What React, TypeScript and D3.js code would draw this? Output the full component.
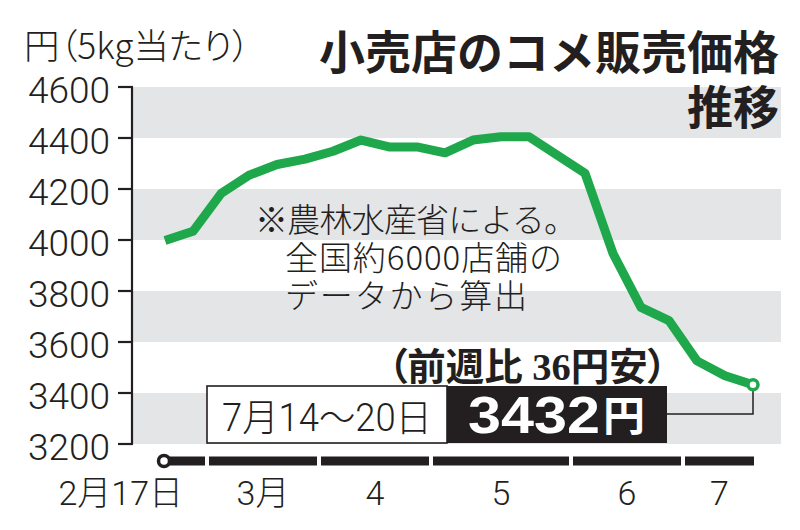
import React from "react";
import * as d3 from "d3";

const weekLabels = ["2/17","2/24","3/3","3/10","3/17","3/24","3/31","4/7","4/14","4/21","4/28","5/5","5/12","5/19","5/26","6/2","6/9","6/16","6/23","6/30","7/7","7/14"];
const prices = [3998, 4034, 4182, 4254, 4296, 4317, 4348, 4392, 4365, 4365, 4342, 4392, 4405, 4405, 4333, 4262, 3947, 3736, 3684, 3526, 3468, 3432];
const yTicks = [3200, 3400, 3600, 3800, 4000, 4200, 4400, 4600];
const monthLabels = ["3月", "4", "5", "6", "7"];
const monthStartIndex = [2, 6, 10, 15, 19];
const firstLabel = "2月17日";
const titleLine1 = "小売店のコメ販売価格";
const titleLine2 = "推移";
const unitLabel = "円（5kg当たり）";
const noteLines = ["※農林水産省による。", "全国約6000店舗の", "データから算出"];
const latestPeriod = "7月14～20日";
const latestValue = "3432";
const latestUnit = "円";
const changeLabel = "（前週比 36円安）";

const INK = "#231f20";
const GREEN = "#1fa84b";
const BAND = "#e4e5e7";
const SANS = "Roboto, 'Noto Sans CJK JP', sans-serif";
const CJK = "'Noto Sans CJK JP', sans-serif";

export default function App() {
  const W = 800, H = 530;
  const n = prices.length;
  const x = d3.scaleLinear().domain([0, n - 1]).range([165, 753]);
  const y = d3.scaleLinear().domain([3200, 4600]).range([444, 87]);
  const plotL = 133, plotR = 781;
  const axisX = 132;

  const line = d3.line<number>().x((_, i) => x(i)).y((d) => y(d)).curve(d3.curveLinear);

  const groupStarts = [0, ...monthStartIndex];
  const segs = groupStarts.map((s, g) => {
    const start = g === 0 ? x(0) : (x(s - 1) + x(s)) / 2 + 2;
    const end = g === groupStarts.length - 1 ? x(n - 1) + 1 : (x(groupStarts[g + 1] - 1) + x(groupStarts[g + 1])) / 2 - 2;
    return { start, end };
  });
  const barY = 461;

  const lastX = x(n - 1), lastY = y(prices[n - 1]);

  return (
    <svg width={W} height={H} style={{ position: "absolute", left: 0, top: 0, background: "#fff" }}>
      {/* bands */}
      {yTicks.slice(0, -1).map((t, k) =>
        k % 2 === 0 ? (
          <rect key={"b" + k} x={plotL} y={y(yTicks[k + 1])} width={plotR - plotL} height={y(t) - y(yTicks[k + 1])} fill={BAND} />
        ) : null
      )}
      {/* y axis */}
      <line x1={axisX} x2={axisX} y1={y(4600)} y2={y(3200)} stroke={INK} strokeWidth={2.2} />
      {yTicks.map((t) => (
        <g key={"t" + t}>
          <line x1={118} x2={axisX + 1} y1={y(t)} y2={y(t)} stroke={INK} strokeWidth={2.2} />
          <text x={110} y={y(t) + 16} textAnchor="end" fontFamily={SANS} fontWeight={300} fontSize={37} fill={INK}>
            {t}
          </text>
        </g>
      ))}
      {/* unit */}
      <text x={24} y={59} fontFamily={CJK} fontWeight={300} fontSize={35} fill={INK} style={{ fontFeatureSettings: '"palt"' }} textLength={226} lengthAdjust="spacingAndGlyphs">
        {unitLabel}
      </text>
      {/* title */}
      <text x={779} y={69} textAnchor="end" fontFamily={CJK} fontWeight={700} fontSize={46} fill={INK}>
        {titleLine1}
      </text>
      <text x={779} y={124} textAnchor="end" fontFamily={CJK} fontWeight={700} fontSize={46} fill={INK}>
        {titleLine2}
      </text>
      {/* note */}
      {noteLines.map((s, i) => (
        <text key={"n" + i} x={i === 0 ? 255 : 285} y={232 + i * 38} fontFamily={CJK} fontWeight={300} fontSize={33} fill={INK}
          textLength={i === 0 ? 322 : i === 1 ? 277 : 242}>
          {s}
        </text>
      ))}
      {/* price line */}
      <path d={line(prices) || ""} fill="none" stroke={GREEN} strokeWidth={9} strokeLinejoin="round" strokeLinecap="butt" />
      {/* leader */}
      <path d={`M667,414H${lastX}V${lastY + 6}`} fill="none" stroke={INK} strokeWidth={1.5} />
      <circle cx={lastX} cy={lastY} r={5} fill="#fff" stroke={GREEN} strokeWidth={3.5} />
      {/* change label */}
      <text x={667} y={380} textAnchor="end" fontFamily="'Liberation Serif', 'Noto Sans CJK JP', serif" fontWeight={700} fontSize={38} fill={INK}
        style={{ fontFeatureSettings: '"palt"' }} textLength={279} lengthAdjust="spacingAndGlyphs">
        {changeLabel}
      </text>
      {/* latest box */}
      <rect x={207} y={386} width={240} height={57} fill="#fff" stroke={INK} strokeWidth={1.6} />
      <rect x={447} y={386} width={220} height={57} fill={INK} />
      <text x={222} y={431} fontFamily={SANS} fontWeight={300} fontSize={38} fill={INK} textLength={210} lengthAdjust="spacingAndGlyphs">
        {latestPeriod}
      </text>
      <text x={468} y={433} fontFamily="'Liberation Sans', Arial, sans-serif" fontWeight={700} fontSize={52} fill="#fff" textLength={132} lengthAdjust="spacingAndGlyphs">
        {latestValue}
      </text>
      <text x={603} y={431} fontFamily={CJK} fontWeight={700} fontSize={42} fill="#fff">
        {latestUnit}
      </text>
      {/* x axis bar */}
      {segs.map((s, i) => (
        <rect key={"s" + i} x={s.start} y={barY - 4.5} width={s.end - s.start} height={9} fill={INK} />
      ))}
      <circle cx={x(0) - 1} cy={barY} r={5.5} fill="#fff" stroke={INK} strokeWidth={3.5} />
      <text x={x(0) + 18} y={505} textAnchor="end" fontFamily={SANS} fontWeight={300} fontSize={34} fill={INK}>
        {firstLabel}
      </text>
      {monthLabels.map((m, i) => {
        const s = segs[i + 1];
        return (
          <text key={"m" + i} x={(s.start + s.end) / 2} y={505} textAnchor="middle" fontFamily={SANS} fontWeight={300} fontSize={34} fill={INK}>
            {m}
          </text>
        );
      })}
    </svg>
  );
}
